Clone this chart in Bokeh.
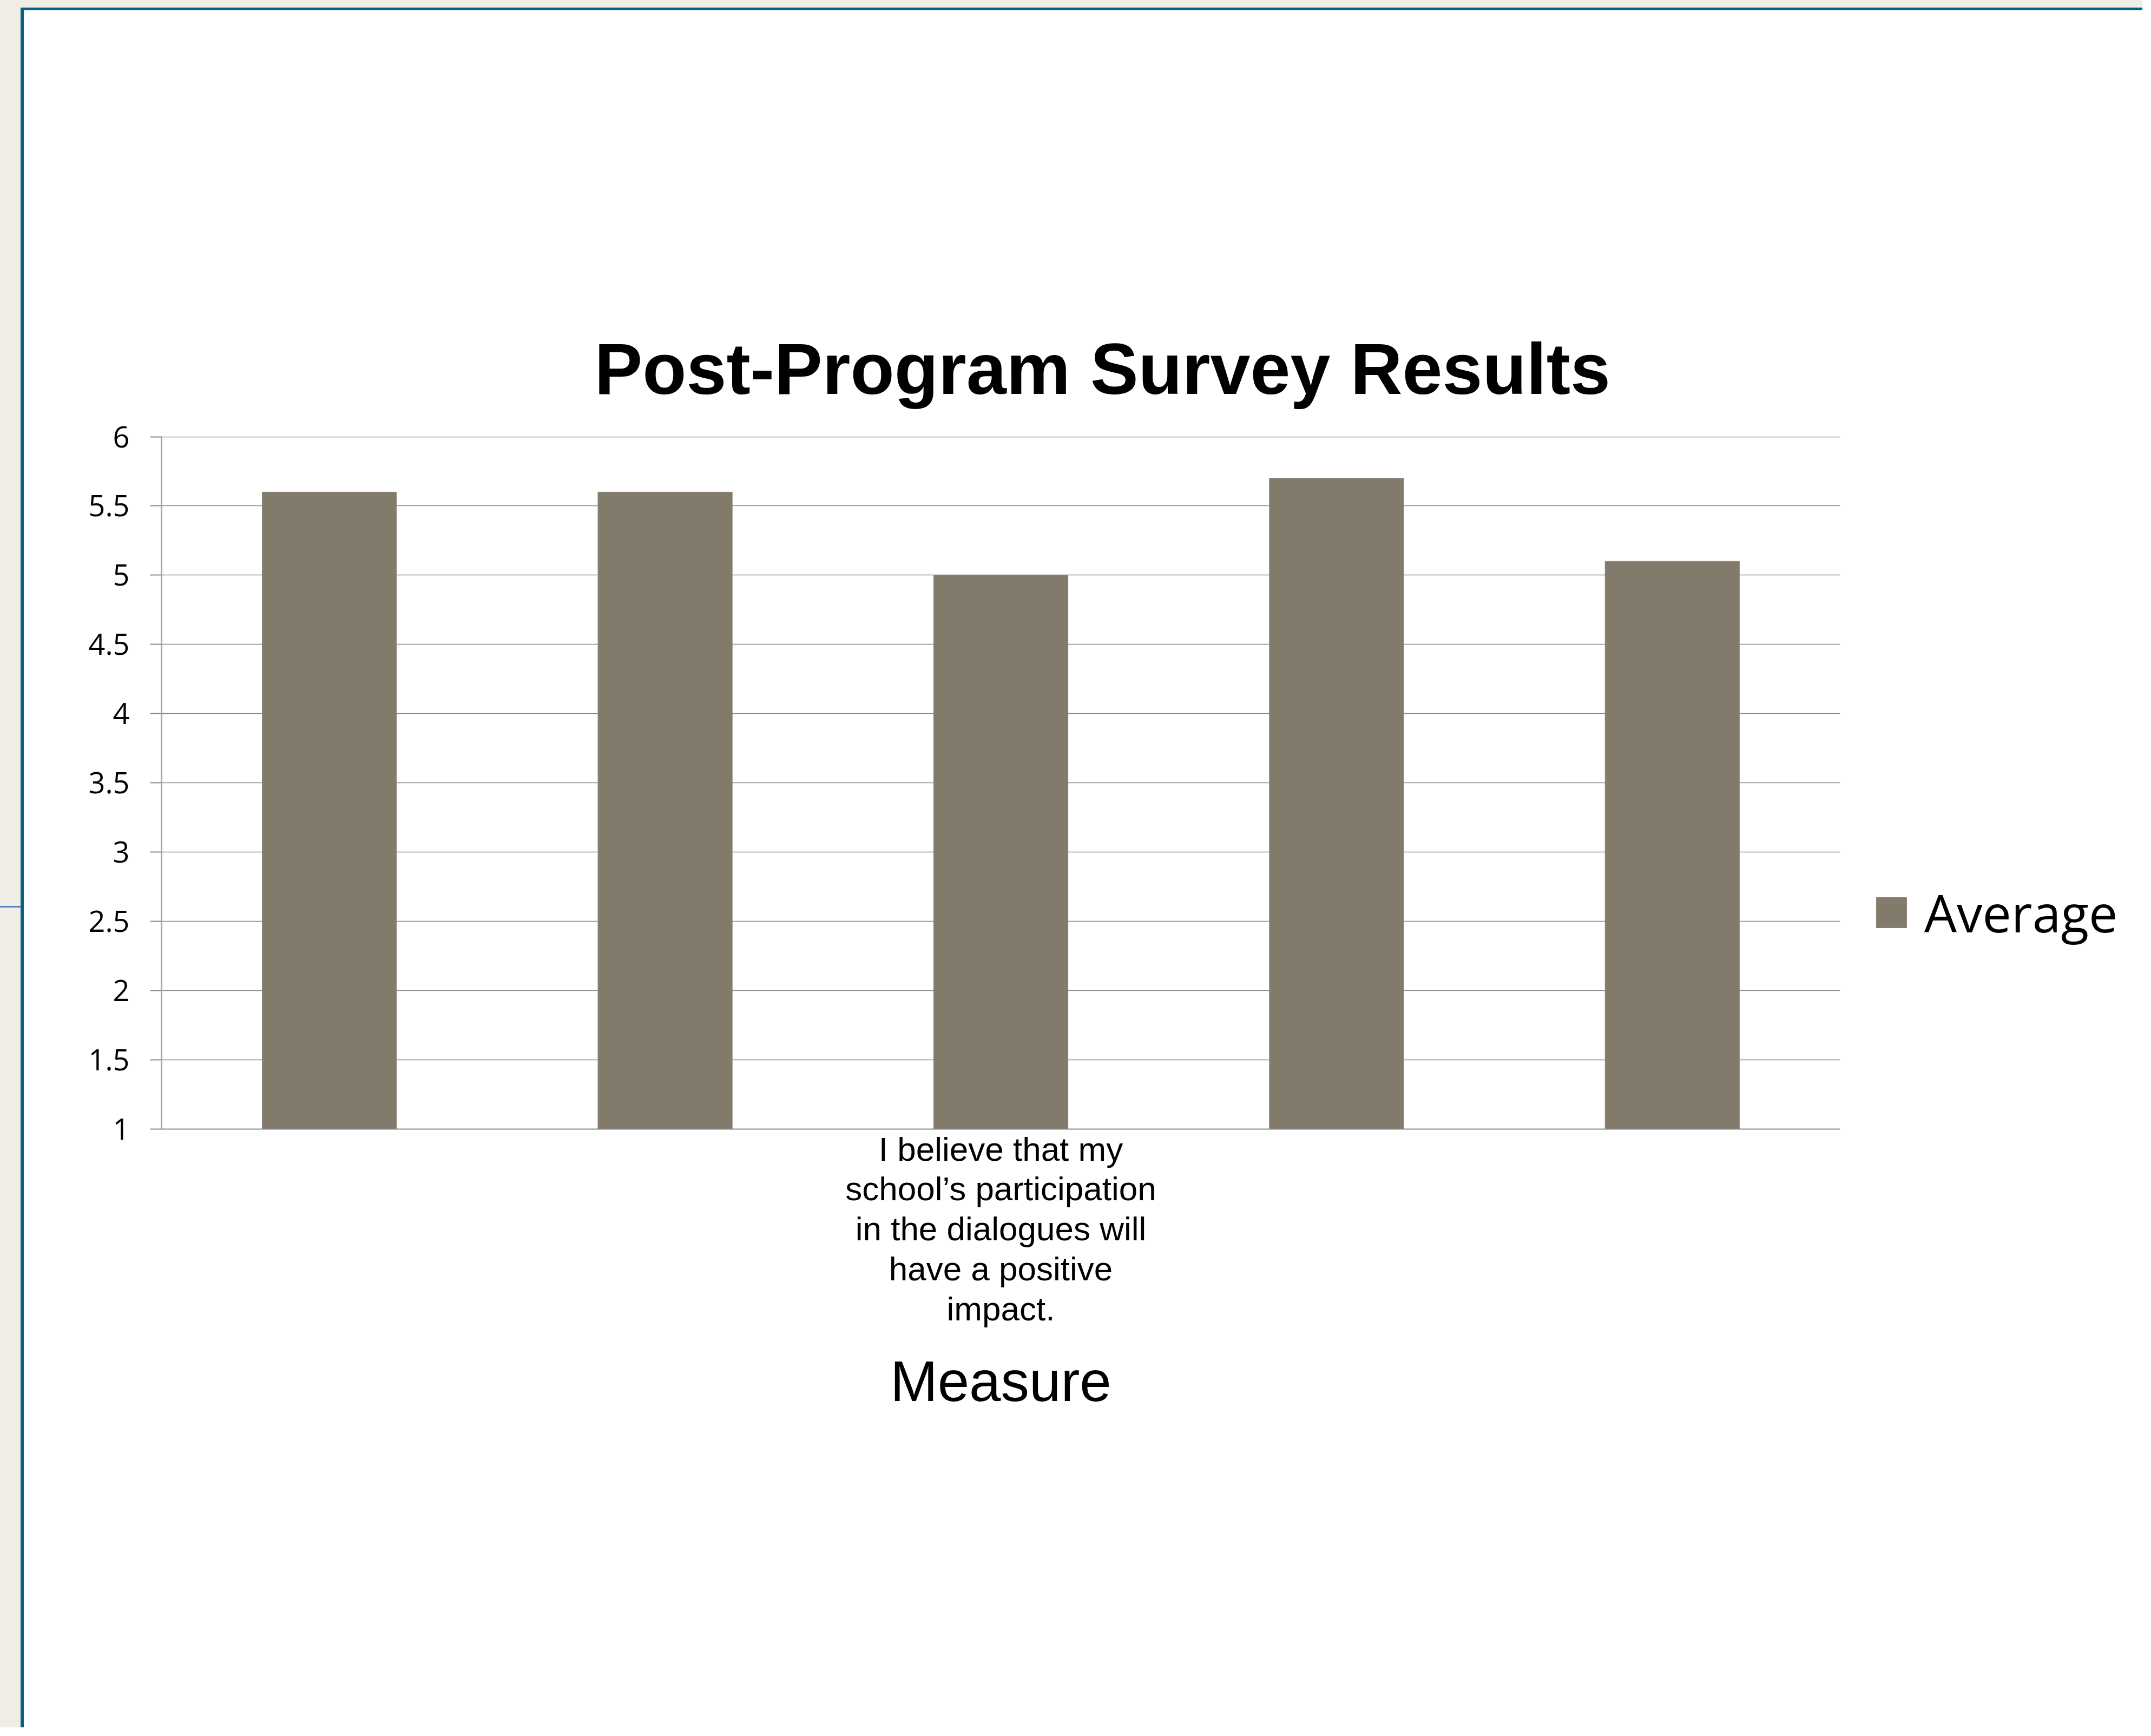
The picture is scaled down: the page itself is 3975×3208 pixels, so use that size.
from bokeh.plotting import figure
from bokeh.models import (Range1d, FixedTicker, NumeralTickFormatter, Legend,
                          LegendItem, Div)
from bokeh.layouts import row, column
from bokeh.embed import file_html
from bokeh.resources import INLINE

# ---- data ----
positions = [1, 2, 3, 4, 5]
averages = [5.6, 5.6, 5.0, 5.7, 5.1]
measure_labels = ["", "",
                  "I believe that my\nschool\u2019s participation\nin the dialogues will\nhave a positive\nimpact.",
                  "", ""]
y_ticks = [1, 1.5, 2, 2.5, 3, 3.5, 4, 4.5, 5, 5.5, 6]
series_name = "Average"
title_text = "Post-Program Survey Results"
x_title = "Measure"

BAR = "#827A6B"
BAR_EDGE = "#8E8779"
GRID = "#8A8A8A"
BEIGE = "#F0EDE6"
BLUE = "#02628C"
LIGHTBLUE = "#4F81BD"

TOTAL_W, TOTAL_H = 3959, 3192
STRIP_W, BORDER_W = 38, 6        # left beige strip and blue border
STRIP_H, BORDER_H = 14, 5        # top beige strip and blue border
INNER_W = TOTAL_W - STRIP_W - BORDER_W
FH = TOTAL_H - STRIP_H - BORDER_H
FW = 3376                         # chart part; legend part sits to its right
LW = INNER_W - FW

p = figure(width=FW, height=FH, output_backend="svg", toolbar_location=None,
           x_range=Range1d(0.5, 5.5), y_range=Range1d(1, 6.002),
           min_border_left=254, min_border_right=20,
           min_border_top=787, min_border_bottom=FH - 2067)
p.outline_line_color = None
p.background_fill_color = "white"
p.border_fill_color = "white"

p.vbar(x=positions, top=averages, bottom=1, width=0.4,
       fill_color=BAR, line_color=BAR_EDGE, line_width=1)

# title
p.title.text = title_text
p.title.text_font = "Liberation Sans"
p.title.text_font_style = "bold"
p.title.text_font_size = "133px"
p.title.text_color = "black"
p.title.align = "left"
p.title.offset = 800
p.title.standoff = 101

# y axis
ya = p.yaxis[0]
ya.ticker = FixedTicker(ticks=y_ticks)
ya.formatter = NumeralTickFormatter(format="0.[0]")
ya.axis_line_color = "#A6A6A6"
ya.axis_line_width = 3
ya.major_tick_line_color = GRID
ya.major_tick_line_width = 2
ya.major_tick_out = 21
ya.major_tick_in = 0
ya.minor_tick_line_color = None
ya.major_label_text_font = "Open Sans"
ya.major_label_text_font_size = "54px"
ya.major_label_text_color = "black"
ya.major_label_standoff = 38

# x axis
xa = p.xaxis[0]
tick_pos = [pos for pos, lab in zip(positions, measure_labels) if lab]
xa.ticker = FixedTicker(ticks=tick_pos)
xa.major_label_overrides = {pos: lab for pos, lab in zip(positions, measure_labels) if lab}
xa.axis_line_color = GRID
xa.axis_line_width = 2
xa.major_tick_line_color = None
xa.minor_tick_line_color = None
xa.major_label_text_font = "Liberation Sans"
xa.major_label_text_font_size = "62px"
xa.major_label_text_color = "black"
xa.major_label_text_line_height = 1.07
xa.major_label_standoff = -4
xa.axis_label = x_title
xa.axis_label_text_font = "Liberation Sans"
xa.axis_label_text_font_style = "normal"
xa.axis_label_text_font_size = "105px"
xa.axis_label_text_color = "black"
xa.axis_label_standoff = 38

p.xgrid.grid_line_color = None
p.ygrid.grid_line_color = GRID
p.ygrid.grid_line_width = 1.5
p.ygrid.ticker = FixedTicker(ticks=y_ticks)

# legend panel (a bare figure holding only the legend); in a row its frame
# shares the chart's top and bottom borders
lf = figure(width=LW, height=FH, output_backend="svg", toolbar_location=None,
            x_axis_type=None, y_axis_type=None,
            x_range=Range1d(0, 1), y_range=Range1d(0, 1),
            min_border_left=40, min_border_right=0,
            min_border_top=0, min_border_bottom=0)
lf.outline_line_color = None
lf.background_fill_color = "white"
lf.border_fill_color = "white"
lr = lf.vbar(x=[0.5], top=[0.0], bottom=[0.0], width=0.0,
             fill_color=BAR, line_color=BAR_EDGE)
legend = Legend(items=[LegendItem(label=series_name, renderers=[lr])],
                location=(0, 335), orientation="vertical",
                glyph_width=70, glyph_height=70, label_standoff=26,
                label_text_font="Open Sans", label_text_font_size="95px",
                label_text_color="black", padding=0, margin=0,
                border_line_alpha=0, background_fill_alpha=0)
lf.add_layout(legend)

# slide frame: beige backdrop strips and blue border
def block(w, h, color):
    return Div(text="", width=w, height=h, margin=0,
               styles={"background-color": color})

left_strip = column(block(STRIP_W, 1660, BEIGE),
                    block(STRIP_W, 3, LIGHTBLUE),
                    block(STRIP_W, TOTAL_H - STRIP_H - 1663, BEIGE),
                    spacing=0)
layout = column(
    block(TOTAL_W, STRIP_H, BEIGE),
    row(left_strip,
        block(BORDER_W, TOTAL_H - STRIP_H, BLUE),
        column(block(INNER_W, BORDER_H, BLUE), row(p, lf, spacing=0), spacing=0),
        spacing=0),
    spacing=0)

open("out.html", "w").write(file_html(layout, INLINE))
